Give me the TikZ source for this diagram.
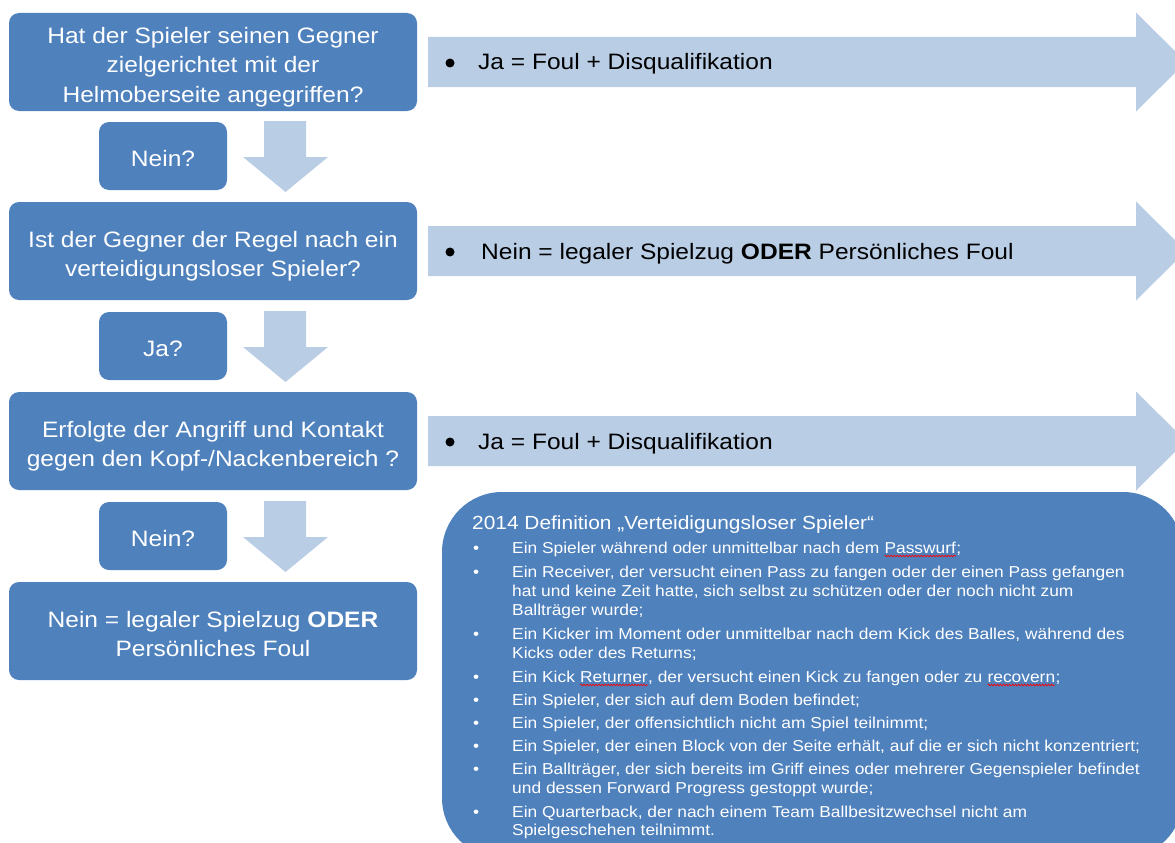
\documentclass[tikz,border=0pt]{standalone}
\usepackage{fontspec}
\setmainfont[FakeStretch=1.1]{Liberation Sans}
\usetikzlibrary{positioning,decorations.pathmorphing}
\definecolor{boxblue}{RGB}{79,129,189}
\definecolor{arrowblue}{RGB}{185,205,229}
\newcommand\lift{\rule{0pt}{21.5pt}}
\newcommand\spellerr[1]{\tikz[baseline=(w.base)]{\node[inner sep=0pt, outer sep=0pt] (w) {#1};
  \draw[red, line width=0.7pt, decorate, decoration={snake, amplitude=0.8pt, segment length=3pt}]
    ([yshift=-2.5pt]w.base west) -- ([yshift=-2.5pt]w.base east);}}
\tikzset{
  question/.style={fill=boxblue, rounded corners=10pt, text=white, align=center, inner sep=0pt,
    minimum width=408pt, minimum height=98pt, text depth=0pt,
    font=\fontsize{22.3}{29.5}\selectfont},
  answer/.style={question, minimum width=128pt, minimum height=68pt},
  verdict/.style={anchor=base west, inner sep=0pt, font=\fontsize{22.3}{27}\selectfont},
  bulletdot/.style={circle, fill=black, inner sep=0pt, minimum size=9pt},
  defline/.style={anchor=base west, inner sep=0pt, text=white, font=\fontsize{15.8}{19}\selectfont},
}
\begin{document}
\begin{tikzpicture}[x=1pt,y=-1pt]
\useasboundingbox (0,0) rectangle (1175,843);
\clip (0,0) rectangle (1175,843);
% block arrows
\foreach \y in {62,251,441}
  \fill[arrowblue] (428,\y-25) -- (1136,\y-25) -- (1136,\y-49.5) -- (1186,\y)
    -- (1136,\y+49.5) -- (1136,\y+25) -- (428,\y+25) -- cycle;
\foreach \y in {121,311,501}
  \fill[arrowblue] (264,\y) -- (306,\y) -- (306,\y+36) -- (328,\y+36) -- (285.5,\y+71)
    -- (243,\y+36) -- (264,\y+36) -- cycle;
% questions
\node[question] (q1) at (213,62) {\lift Hat der Spieler seinen Gegner\\zielgerichtet mit der\\Helmoberseite angegriffen?};
\node[answer] (a1) at (163,156) {\lift Nein?};
\node[question] (q2) at (213,251) {\lift Ist der Gegner der Regel nach ein\\verteidigungsloser Spieler?};
\node[answer] (a2) at (163,346) {\lift Ja?};
\node[question] (q3) at (213,441) {\lift Erfolgte der Angriff und Kontakt\\gegen den Kopf-/Nackenbereich ?};
\node[answer] (a3) at (163,536) {\lift Nein?};
\node[question] (q4) at (213,631) {\lift Nein = legaler Spielzug \textbf{ODER}\\Persönliches Foul};
% verdicts
\node[bulletdot] (b1) at (450,63) {};
\node[verdict] (v1) at (478,70) {Ja = Foul + Disqualifikation};
\node[bulletdot] (b2) at (450,252) {};
\node[verdict] (v2) at (481,259) {Nein = legaler Spielzug \textbf{ODER} Persönliches Foul};
\node[bulletdot] (b3) at (450,442) {};
\node[verdict] (v3) at (478,449) {Ja = Foul + Disqualifikation};
% definition
\fill[boxblue, rounded corners=60pt] (442,492) rectangle (1183,858);
\node[defline, font=\fontsize{19}{19}\selectfont] (dtitle) at (472,529) {2014 Definition „Verteidigungsloser Spieler“};
\foreach \y [count=\i] in {553.5,577.5,639.5,682.5,705.5,728.5,751.5,774.5,817.5}
  \node[defline] (dot\i) at (473,\y) {•};
\foreach \y/\t [count=\i] in {
  553.5/{Ein Spieler während oder unmittelbar nach dem \spellerr{Passwurf};},
  577.5/{Ein Receiver, der versucht einen Pass zu fangen oder der einen Pass gefangen},
  596.5/{hat und keine Zeit hatte, sich selbst zu schützen oder der noch nicht zum},
  615.5/{Ballträger wurde;},
  639.5/{Ein Kicker im Moment oder unmittelbar nach dem Kick des Balles, während des},
  658.5/{Kicks oder des Returns;},
  682.5/{Ein Kick \spellerr{Returner}, der versucht einen Kick zu fangen oder zu \spellerr{recovern};},
  705.5/{Ein Spieler, der sich auf dem Boden befindet;},
  728.5/{Ein Spieler, der offensichtlich nicht am Spiel teilnimmt;},
  751.5/{Ein Spieler, der einen Block von der Seite erhält, auf die er sich nicht konzentriert;},
  774.5/{Ein Ballträger, der sich bereits im Griff eines oder mehrerer Gegenspieler befindet},
  793.5/{und dessen Forward Progress gestoppt wurde;},
  817.5/{Ein Quarterback, der nach einem Team Ballbesitzwechsel nicht am},
  835.5/{Spielgeschehen teilnimmt.}}
  \node[defline] (line\i) at (512,\y) {\t};
\end{tikzpicture}
\end{document}
